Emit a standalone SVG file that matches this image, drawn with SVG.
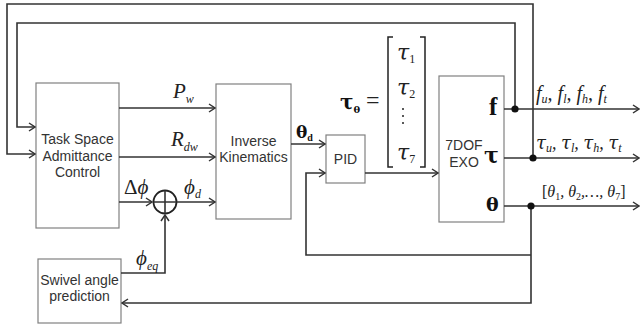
<svg xmlns="http://www.w3.org/2000/svg" width="640" height="331" viewBox="0 0 640 331">
<style>
.box{fill:#fff;stroke:#808080;stroke-width:1.2}
.ln{fill:none;stroke:#333;stroke-width:1.6}
.bt{font-family:"Liberation Sans",Arial,sans-serif;font-size:14px;fill:#333;text-anchor:middle}
.m{font-family:"Liberation Serif","Times New Roman",serif;font-style:italic;fill:#222}
.b{font-family:"Liberation Serif","Times New Roman",serif;font-weight:bold;fill:#111}
.g{font-family:"DejaVu Serif",serif}
</style>
<defs>
<marker id="ar" viewBox="-8 -5 9 10" refX="0" refY="0" markerWidth="9" markerHeight="10" markerUnits="userSpaceOnUse" orient="auto">
<path d="M-6,-4 L0,0 L-6,4" fill="none" stroke="#333" stroke-width="1.5"/>
</marker>
</defs>
<rect width="640" height="331" fill="#fff"/>

<g id="task-space">
<rect class="box" x="36" y="83" width="83" height="145"/>
<text class="bt" x="77.5" y="144">Task Space</text>
<text class="bt" x="77.5" y="161">Admittance</text>
<text class="bt" x="77.5" y="177">Control</text>
</g>
<g id="inverse-kinematics">
<rect class="box" x="216" y="84" width="75" height="135"/>
<text class="bt" x="253.5" y="146">Inverse</text>
<text class="bt" x="253.5" y="162">Kinematics</text>
</g>
<g id="pid">
<rect class="box" x="326" y="135" width="39" height="48"/>
<text class="bt" x="345.5" y="164">PID</text>
</g>
<g id="exo">
<rect class="box" x="439" y="76" width="65" height="146"/>
<text class="bt" x="464" y="150">7DOF</text>
<text class="bt" x="464" y="167">EXO</text>
<text class="b" x="489" y="115" font-size="25">f</text>
<text class="b g" x="484" y="163" font-size="22">τ</text>
<text class="b g" x="486" y="211" font-size="19">θ</text>
</g>
<g id="swivel">
<rect class="box" x="38" y="259" width="83" height="64"/>
<text class="bt" x="79.5" y="285">Swivel angle</text>
<text class="bt" x="79.5" y="301">prediction</text>
</g>
<g id="sum">
<circle cx="165" cy="202" r="11.5" fill="#fff" stroke="#222" stroke-width="1.8"/>
<path class="ln" d="M153.5,202 H176.5 M165,190.5 V213.5" stroke="#222"/>
</g>

<g id="connectors">
<path class="ln" d="M533,158 V4 H7 V154 H35" marker-end="url(#ar)"/>
<path class="ln" d="M515,109 V23 H17 V127 H35" marker-end="url(#ar)"/>
<path class="ln" d="M119,108 H215" marker-end="url(#ar)"/>
<path class="ln" d="M119,157 H215" marker-end="url(#ar)"/>
<path class="ln" d="M119,202 H152" marker-end="url(#ar)"/>
<path class="ln" d="M177,202 H215" marker-end="url(#ar)"/>
<path class="ln" d="M121,273 H165 V215" marker-end="url(#ar)"/>
<path class="ln" d="M291,144 H325" marker-end="url(#ar)"/>
<path class="ln" d="M365,173 H438" marker-end="url(#ar)"/>
<path class="ln" d="M504,109 H639" marker-end="url(#ar)"/>
<path class="ln" d="M504,158 H639" marker-end="url(#ar)"/>
<path class="ln" d="M504,206 H639" marker-end="url(#ar)"/>
<path class="ln" d="M531,206 V303 H122" marker-end="url(#ar)"/>
<path class="ln" d="M531,255 H306 V173 H325" marker-end="url(#ar)"/>
<circle cx="515" cy="109" r="3.6" fill="#111"/>
<circle cx="533" cy="158" r="3.6" fill="#111"/>
<circle cx="531" cy="206" r="3.6" fill="#111"/>
</g>

<g id="labels">
<text class="m" x="173" y="98" font-size="21">P<tspan font-size="12" dy="5">w</tspan></text>
<text class="m" x="171" y="146" font-size="21">R<tspan font-size="12" dy="5">dw</tspan></text>
<text class="m" x="124" y="194" font-size="21"><tspan font-style="normal">Δ</tspan>ϕ</text>
<text class="m" x="184" y="194" font-size="21">ϕ<tspan font-size="12" dy="4">d</tspan></text>
<text class="m" x="136" y="265" font-size="21">ϕ<tspan font-size="12" dy="5">eq</tspan></text>
<text class="b" x="296" y="138" font-size="17"><tspan class="g">θ</tspan><tspan font-size="10" dy="3">d</tspan></text>
<text class="b" x="340" y="109" font-size="20"><tspan class="g">τ</tspan><tspan class="g" font-size="10" dy="4">θ</tspan></text>
<text x="366" y="108" font-family="Liberation Serif,serif" font-size="24" fill="#222">=</text>
<path d="M393,37 H388 V167 H393 M420,37 H425 V167 H420" fill="none" stroke="#222" stroke-width="1.5"/>
<text class="m g" x="397" y="60" font-size="22">τ<tspan font-family="Liberation Serif,serif" font-style="normal" font-size="12" dy="3">1</tspan></text>
<text class="m g" x="397" y="95" font-size="22">τ<tspan font-family="Liberation Serif,serif" font-style="normal" font-size="12" dy="3">2</tspan></text>
<circle cx="403" cy="109" r="1" fill="#222"/>
<circle cx="403" cy="116" r="1" fill="#222"/>
<circle cx="403" cy="123" r="1" fill="#222"/>
<text class="m g" x="397" y="160" font-size="22">τ<tspan font-family="Liberation Serif,serif" font-style="normal" font-size="12" dy="3">7</tspan></text>
<text class="m" x="536" y="100" font-size="20">f<tspan font-size="12" dy="3">u</tspan><tspan dy="-3">, f</tspan><tspan font-size="12" dy="3">l</tspan><tspan dy="-3">, f</tspan><tspan font-size="12" dy="3">h</tspan><tspan dy="-3">, f</tspan><tspan font-size="12" dy="3">t</tspan></text>
<text class="m" x="536" y="149" font-size="18"><tspan class="g">τ</tspan><tspan font-size="12" dy="3">u</tspan><tspan dy="-3">, </tspan><tspan class="g">τ</tspan><tspan font-size="12" dy="3">l</tspan><tspan dy="-3">, </tspan><tspan class="g">τ</tspan><tspan font-size="12" dy="3">h</tspan><tspan dy="-3">, </tspan><tspan class="g">τ</tspan><tspan font-size="12" dy="3">t</tspan></text>
<text class="m" x="542" y="197" font-size="16"><tspan font-style="normal">[</tspan>θ<tspan font-style="normal" font-size="10" dy="3">1</tspan><tspan dy="-3">, θ</tspan><tspan font-style="normal" font-size="10" dy="3">2</tspan><tspan dy="-3">,…, θ</tspan><tspan font-style="normal" font-size="10" dy="3">7</tspan><tspan font-style="normal" dy="-3">]</tspan></text>
</g>
</svg>
